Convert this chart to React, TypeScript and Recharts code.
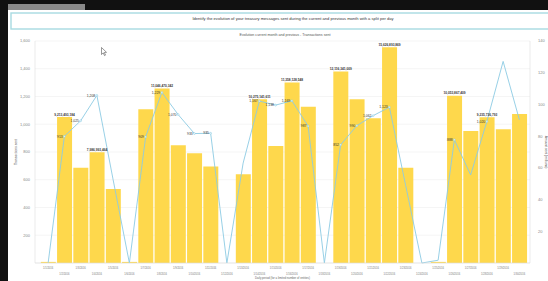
import React from 'react';
import { ComposedChart, Bar, Line, XAxis, YAxis, CartesianGrid, LabelList } from 'recharts';

const dates = [
  '1/1/2016','1/2/2016','1/3/2016','1/4/2016','1/5/2016','1/6/2016','1/7/2016','1/8/2016','1/9/2016','1/10/2016',
  '1/11/2016','1/12/2016','1/13/2016','1/14/2016','1/15/2016','1/16/2016','1/17/2016','1/18/2016','1/19/2016','1/20/2016',
  '1/21/2016','1/22/2016','1/23/2016','1/24/2016','1/25/2016','1/26/2016','1/27/2016','1/28/2016','1/29/2016','1/30/2016',
];

const amounts = [
  0.7, 92, 60, 69.8, 46.7, 0.7, 97, 110, 74.2, 69.2,
  60.8, 0, 56, 103.3, 73.8, 113.8, 98.6, 0, 120.7, 103.3,
  91.3, 136, 60.1, 0, 0.7, 105.4, 83.3, 91.9, 84.3, 94,
];

const amountLabels = [
  '', '9,213,493,184', '', '7,986,993,464', '', '', '', '11,046,470,342', '', '',
  '', '', '', '10,275,141,611', '', '11,358,128,548', '', '', '12,116,341,009', '',
  '', '15,626,893,869', '', '', '', '10,053,867,409', '', '9,235,736,793', '', '',
];

const transactions = [
  0, 913, 1025, 1208, 600, 0, 909, 1229, 1070, 933,
  935, 0, 720, 1167, 1138, 1169, 987, 0, 852, 990,
  1062, 1123, 560, 0, 20, 888, 635, 1020, 1453, 1032,
];

const transactionShown = [
  false, true, true, true, false, false, true, true, true, true,
  true, false, false, true, true, true, true, false, true, true,
  true, true, false, false, false, true, false, true, false, false,
];

const leftTicks = [200, 400, 600, 800, 1000, 1200, 1400, 1600];
const rightTicks = [20, 40, 60, 80, 100, 120, 140];

const data = dates.map((d, i) => ({
  date: d,
  amount: amounts[i],
  amountLabel: amountLabels[i],
  tx: transactions[i],
  txLabel: transactionShown[i] ? transactions[i].toLocaleString('en-US') : '',
}));

const BAR = '#fed84c';
const LINE = '#8ccbe3';
const FONT = 'Arial, "Liberation Sans", sans-serif';

const XTick = (props: any) => {
  const { x, y, payload, index } = props;
  const dy = index % 2 === 0 ? 3.6 : 9.6;
  return (
    <text x={x} y={y + dy} textAnchor="middle" fontSize={2.6} fill="#777" fontFamily={FONT}>
      {payload.value}
    </text>
  );
};

const Dot = (props: any) => {
  const { cx, cy, index } = props;
  if (!transactionShown[index]) return <g key={'d' + index} />;
  return <circle key={'d' + index} cx={cx} cy={cy} r={0.9} fill="#fff" stroke={LINE} strokeWidth={0.6} />;
};

const BarLabel = (props: any) => {
  const { x, y, width, value } = props;
  if (!value) return null;
  return (
    <text x={x + width / 2} y={y - 1.6} textAnchor="middle" fontSize={3.2} fontWeight="bold" fill="#333" fontFamily={FONT}>
      {value}
    </text>
  );
};

const LineLabel = (props: any) => {
  const { x, y, value } = props;
  if (!value) return null;
  return (
    <text x={x - 1.6} y={y + 1.2} textAnchor="end" fontSize={3.4} fill="#333" fontFamily={FONT}>
      {value}
    </text>
  );
};

export default function App() {
  return (
    <div style={{ position: 'absolute', left: 0, top: 0, width: 548, height: 281, background: '#fff', overflow: 'hidden', fontFamily: FONT }}>
      <ComposedChart
        width={548}
        height={281}
        data={data}
        margin={{ top: 41, right: 0, bottom: 0, left: 0 }}
        barCategoryGap="5%"
      >
        <CartesianGrid yAxisId="left" vertical={false} stroke="#eeeeee" strokeWidth={0.6} />
        <XAxis
          dataKey="date"
          interval={0}
          height={18}
          padding={{ left: 5, right: 2.5 }}
          tickLine={false}
          tickSize={0}
          axisLine={{ stroke: '#dddddd', strokeWidth: 0.6 }}
          tick={<XTick />}
          label={{ value: 'Daily period (for a limited number of entities)', position: 'insideBottom', offset: 2, fontSize: 2.8, fill: '#666' }}
        />
        <YAxis
          yAxisId="left"
          orientation="left"
          width={35}
          domain={[0, 1600]}
          ticks={leftTicks}
          tickFormatter={(v: number) => v.toLocaleString('en-US')}
          tickLine={false}
          tickSize={0}
          tickMargin={5}
          axisLine={{ stroke: '#dddddd', strokeWidth: 0.6 }}
          tick={{ fontSize: 4, fill: '#888', fontFamily: FONT }}
          label={{ value: 'Transactions sent', angle: -90, position: 'center', dx: -1.5, fontSize: 3.3, fill: '#555' }}
        />
        <YAxis
          yAxisId="right"
          orientation="right"
          width={18}
          domain={[0, 140]}
          ticks={rightTicks}
          tickLine={false}
          tickSize={0}
          tickMargin={8}
          axisLine={{ stroke: '#dddddd', strokeWidth: 0.6 }}
          tick={{ fontSize: 4, fill: '#888', fontFamily: FONT }}
          label={{ value: 'Amount sent (millions)', angle: 90, position: 'center', dx: 7, fontSize: 3.3, fill: '#555' }}
        />
        <Bar yAxisId="right" dataKey="amount" fill={BAR} isAnimationActive={false}>
          <LabelList dataKey="amountLabel" content={<BarLabel />} />
        </Bar>
        <Line
          yAxisId="left"
          type="linear"
          dataKey="tx"
          stroke={LINE}
          strokeWidth={0.9}
          dot={<Dot />}
          activeDot={false}
          isAnimationActive={false}
        >
          <LabelList dataKey="txLabel" content={<LineLabel />} />
        </Line>
      </ComposedChart>

      <svg width={548} height={281} style={{ position: 'absolute', left: 0, top: 0, pointerEvents: 'none' }}>
        <rect x={0} y={0} width={548} height={10} fill="#111" />
        <rect x={8} y={4} width={77} height={6} fill="#8a8a8a" />
        <rect x={0} y={0} width={8} height={281} fill="#111" />
        <rect x={11} y={13} width={545} height={16} fill="none" stroke="#a7dbe2" strokeWidth={1.4} />
        <text x={293} y={20} textAnchor="middle" fontSize={4.1} fill="#333" fontFamily={FONT}>
          Identify the evolution of your treasury messages sent during the current and previous month with a split per day
        </text>
        <text x={285} y={36} textAnchor="middle" fontSize={3.6} fill="#555" fontFamily={FONT}>
          Evolution current month and previous - Transactions sent
        </text>
        <path d="M101.5 47.5 L101.5 54.5 L103.2 52.9 L104.5 55.6 L105.5 55.1 L104.3 52.5 L106.5 52.3 Z" fill="#fff" stroke="#333" strokeWidth={0.5} />
      </svg>
    </div>
  );
}
